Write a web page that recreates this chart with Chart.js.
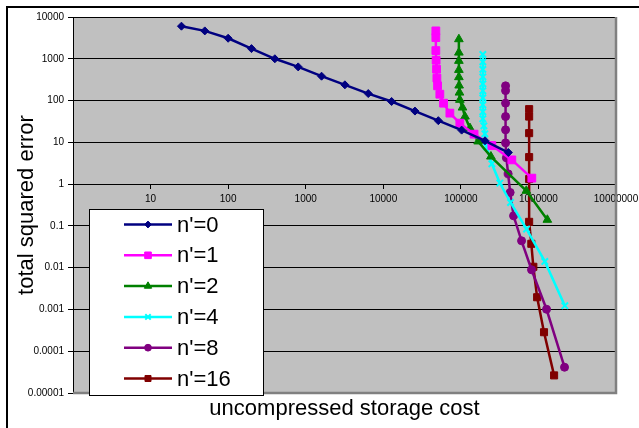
<!DOCTYPE html>
<html>
<head>
<meta charset="utf-8">
<script src="https://cdn.jsdelivr.net/npm/chart.js@4.4.1/dist/chart.umd.min.js"></script>
<style>
html,body{margin:0;padding:0;background:#fff;}
#wrap{width:639px;height:428px;position:relative;}
</style>
</head>
<body>
<div id="wrap"><canvas id="c" width="639" height="428"></canvas></div>
<script>
// ---- data ----
const seriesLabels = ["n'=0", "n'=1", "n'=2", "n'=4", "n'=8", "n'=16"];

const n0X = [25, 50, 100, 200, 400, 800, 1600, 3200, 6400, 12800, 25600, 51200, 102400, 204800, 409600];
const n0Y = [6030, 4650, 3100, 1750, 1000, 640, 383, 238, 147, 95, 56, 33, 19.6, 10.9, 5.7];

const n1X = [47600, 47600, 47600, 48000, 48600, 49100, 50100, 53600, 59800, 72200, 97000, 148000, 251000, 454000, 822000];
const n1Y = [4650, 3210, 1570, 926, 564, 344, 225, 142, 86.6, 50, 28.8, 15.7, 8.4, 3.8, 1.39];

const n2X = [94300, 94300, 94300, 94300, 94300, 95000, 96000, 97100, 105000, 113000, 131000, 167000, 244000, 698000, 1303000];
const n2Y = [2940, 1407, 891, 542, 363, 229, 155, 104, 68, 41.4, 21.9, 10.5, 4.57, 0.69, 0.14];

const n4X = [192000, 192000, 192000, 192000, 192000, 192000, 192000, 192000, 192000, 192000, 198000, 204000, 214000, 251000, 318000, 437000, 703000, 1209000, 2190000];
const n4Y = [1274, 843, 557, 369, 251, 171, 116, 79, 53.7, 36.5, 24.8, 16, 7.8, 3.06, 1.06, 0.363, 0.0838, 0.0141, 0.00123];

const n8X = [377000, 377000, 377000, 377000, 377000, 377000, 386000, 407000, 432000, 478000, 606000, 815000, 1272000, 2170000];
const n8Y = [225, 173, 86.6, 41.4, 19.9, 9.7, 4.26, 1.76, 0.63, 0.174, 0.044, 0.0089, 0.00101, 0.0000414];

const n16X = [759000, 759000, 759000, 759000, 759000, 759000, 810000, 860000, 962000, 1180000, 1592000];
const n16Y = [62.3, 41.4, 16.6, 4.43, 1.32, 0.125, 0.0373, 0.0105, 0.00196, 0.000285, 0.0000264];

const xTickValues = [1, 10, 100, 1000, 10000, 100000, 1000000, 10000000];
const xTickLabels = ['', '10', '100', '1000', '10000', '100000', '1000000', '10000000'];
const yTickValues = [0.00001, 0.0001, 0.001, 0.01, 0.1, 1, 10, 100, 1000, 10000];
const yTickLabels = ['0.00001', '0.0001', '0.001', '0.01', '0.1', '1', '10', '100', '1000', '10000'];

const xTitle = 'uncompressed storage cost';
const yTitle = 'total squared error';

// ---- styles ----
const FONT = '"Liberation Sans", Arial, sans-serif';
const styles = [
  {color: '#000080', pointStyle: 'rectRot', radius: 4},
  {color: '#FF00FF', pointStyle: 'rect', radius: 5.5},
  {color: '#008000', pointStyle: 'triangle', radius: 5},
  {color: '#00FFFF', pointStyle: 'crossRot', radius: 4.5},
  {color: '#800080', pointStyle: 'circle', radius: 4},
  {color: '#800000', pointStyle: 'rect', radius: 5}
];
const xs = [n0X, n1X, n2X, n4X, n8X, n16X];
const ys = [n0Y, n1Y, n2Y, n4Y, n8Y, n16Y];

const datasets = seriesLabels.map((lab, i) => ({
  label: lab,
  data: xs[i].map((x, j) => ({x: x, y: ys[i][j]})),
  borderColor: styles[i].color,
  backgroundColor: styles[i].color,
  pointBackgroundColor: styles[i].color,
  pointBorderColor: styles[i].color,
  pointStyle: styles[i].pointStyle,
  pointRadius: styles[i].radius,
  pointBorderWidth: styles[i].pointStyle === 'crossRot' ? 2 : 1,
  borderWidth: 2.5,
  tension: 0,
  fill: false,
  showLine: true
}));

const bgPlugin = {
  id: 'bg',
  beforeDraw(chart) {
    const {ctx, chartArea: a} = chart;
    ctx.save();
    ctx.fillStyle = '#ffffff';
    ctx.fillRect(0, 0, chart.width, chart.height);
    ctx.fillStyle = '#C0C0C0';
    ctx.fillRect(a.left, a.top, a.right - a.left, a.bottom - a.top);
    ctx.restore();
  },
  beforeDatasetsDraw(chart) {
    const {ctx, chartArea: a} = chart;
    ctx.save();
    ctx.strokeStyle = '#808080';
    ctx.lineWidth = 2.5;
    ctx.beginPath();
    ctx.moveTo(a.right, a.top);
    ctx.lineTo(a.right, a.bottom);
    ctx.lineTo(a.left, a.bottom);
    ctx.stroke();
    ctx.restore();
  },
  afterDraw(chart) {
    const ctx = chart.ctx;
    ctx.save();
    // outer frame (top & left visible)
    ctx.strokeStyle = '#000';
    ctx.lineWidth = 2;
    ctx.beginPath();
    ctx.moveTo(7, chart.height);
    ctx.lineTo(7, 7);
    ctx.lineTo(chart.width, 7);
    ctx.stroke();
    // legend
    const bx = 89.5, by = 209.5, bw = 174, bh = 186;
    ctx.fillStyle = '#fff';
    ctx.fillRect(bx, by, bw, bh);
    ctx.strokeStyle = '#000';
    ctx.lineWidth = 1;
    ctx.strokeRect(bx, by, bw, bh);
    chart.data.datasets.forEach((ds, i) => {
      const cy = 224.5 + i * 30.8;
      ctx.strokeStyle = ds.borderColor;
      ctx.lineWidth = 2.5;
      ctx.beginPath();
      ctx.moveTo(124, cy);
      ctx.lineTo(172, cy);
      ctx.stroke();
      ctx.fillStyle = ds.pointBackgroundColor;
      ctx.strokeStyle = ds.pointBorderColor;
      ctx.lineWidth = ds.pointBorderWidth;
      Chart.helpers.drawPoint(ctx, {pointStyle: ds.pointStyle, radius: ds.pointRadius * 0.85, rotation: 0, borderWidth: ds.pointBorderWidth}, 148, cy);
      ctx.fillStyle = '#000';
      ctx.font = '22px ' + FONT;
      ctx.textAlign = 'left';
      ctx.textBaseline = 'middle';
      ctx.fillText(ds.label, 177, cy + 1);
    });
    ctx.restore();
  }
};

new Chart(document.getElementById('c'), {
  type: 'scatter',
  data: {datasets: datasets},
  plugins: [bgPlugin],
  options: {
    responsive: false,
    devicePixelRatio: 1,
    animation: false,
    events: [],
    layout: {padding: {left: 0, top: 17, right: 23, bottom: 0}},
    plugins: {
      legend: {display: false},
      tooltip: {enabled: false},
      title: {
        display: true,
        position: 'bottom',
        fullSize: false,
        text: xTitle,
        color: '#000',
        font: {family: FONT, size: 22, weight: 'normal'},
        padding: {top: 3, bottom: 5.6}
      }
    },
    scales: {
      x: {
        type: 'logarithmic',
        position: {y: 1},
        min: 1,
        max: 10000000,
        afterBuildTicks: s => { s.ticks = xTickValues.map(v => ({value: v})); },
        afterFit: s => { s.paddingLeft = 0; s.paddingRight = 0; },
        ticks: {
          autoSkip: false,
          maxRotation: 0,
          minRotation: 0,
          padding: 5,
          color: '#000',
          font: {family: FONT, size: 10},
          callback: (v, i) => xTickLabels[i]
        },
        grid: {drawOnChartArea: false, drawTicks: true, tickLength: 4, color: '#000', tickColor: '#000'},
        border: {display: true, color: '#000', width: 1}
      },
      y: {
        type: 'logarithmic',
        position: 'left',
        min: 0.00001,
        max: 10000,
        afterBuildTicks: s => { s.ticks = yTickValues.map(v => ({value: v})); },
        afterFit: s => { s.width = 73; s.paddingTop = 0; s.paddingBottom = 0; },
        ticks: {
          autoSkip: false,
          padding: 4,
          color: '#000',
          font: {family: FONT, size: 10},
          callback: (v, i) => yTickLabels[i]
        },
        grid: {color: '#000', lineWidth: 1, tickLength: 5, tickColor: '#000'},
        border: {display: true, color: '#000', width: 1},
        title: {
          display: true,
          text: yTitle,
          color: '#000',
          font: {family: FONT, size: 22, weight: 'normal'},
          padding: {top: 14, bottom: 0}
        }
      }
    }
  }
});
</script>
</body>
</html>
